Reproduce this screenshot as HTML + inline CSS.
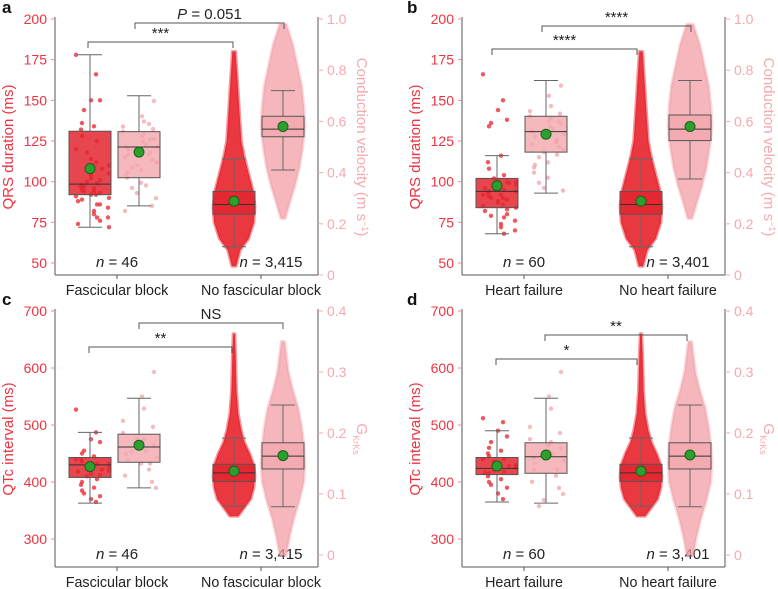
<!DOCTYPE html>
<html><head><meta charset="utf-8"><style>
html,body{margin:0;padding:0;background:#fff;}
svg{display:block;font-family:"Liberation Sans",sans-serif;}
</style></head><body>
<svg id="fig" width="778" height="589" viewBox="0 0 778 589" xmlns="http://www.w3.org/2000/svg"></svg>
<script>
// ---- data ----
// box stats: [lowWhisker, q1, median, q3, highWhisker, mean]
const aRedStats = [[72,92,98.5,131,178,108],[60,80,86,94,114,88]];
const aPinkStats = [[0.27,0.38,0.50,0.56,0.70,0.48],[0.41,0.54,0.57,0.62,0.72,0.58]];
const bRedStats = [[68,84,94,102,116,97.5],[60,80,86,94,114,88]];
const bPinkStats = [[0.32,0.48,0.56,0.62,0.76,0.55],[0.375,0.525,0.57,0.625,0.76,0.58]];
const cRedStats = [[363,408,430,443,487,427],[358,401,416,431,477,419]];
const cPinkStats = [[0.110,0.152,0.177,0.198,0.257,0.180],[0.079,0.141,0.162,0.184,0.246,0.163]];
const dRedStats = [[365,413,424,443,490,428],[358,401,416,431,477,419]];
const dPinkStats = [[0.085,0.134,0.161,0.184,0.257,0.164],[0.079,0.141,0.162,0.184,0.246,0.164]];
// small-group points
const aRedPts = [178,166,150,150,144,136,134,132,128,125,118,114,110,108,105,102,100,99,98,97,96,95,94,93,92,92,91,90,88,86,86,84,82,80,78,78,76,74,72,120,112,104,101,97,89,94];
const aPinkPts = [0.68,0.62,0.60,0.58,0.57,0.56,0.55,0.54,0.53,0.52,0.51,0.50,0.50,0.49,0.48,0.47,0.46,0.45,0.44,0.43,0.42,0.41,0.40,0.38,0.36,0.34,0.32,0.30,0.27,0.25,0.59,0.53,0.47,0.44,0.39,0.35];
const bRedPts = [166,150,144,138,136,134,116,112,108,104,102,101,100,99,98,97,96,95,94,93,92,91,90,89,88,86,85,84,82,80,78,76,74,72,70,68,100,96,94,92,90,87,83,79];
const bPinkPts = [0.74,0.70,0.66,0.64,0.63,0.62,0.61,0.60,0.59,0.58,0.57,0.56,0.55,0.54,0.53,0.52,0.51,0.50,0.49,0.48,0.46,0.44,0.42,0.40,0.38,0.36,0.34,0.33,0.60,0.56,0.52,0.47,0.43];
const cRedPts = [527,487,475,470,455,450,445,440,436,432,430,428,425,422,420,415,410,405,400,395,390,385,380,375,370,365,440,432,418,412];
const cPinkPts = [0.30,0.26,0.24,0.22,0.21,0.20,0.19,0.185,0.18,0.175,0.17,0.165,0.16,0.155,0.15,0.14,0.13,0.12,0.11,0.19,0.17,0.15];
const dRedPts = [512,505,490,480,470,460,455,450,445,440,436,432,430,428,425,422,420,418,415,410,405,400,395,390,380,370,440,426,416];
const dPinkPts = [0.30,0.26,0.24,0.21,0.20,0.19,0.185,0.18,0.175,0.17,0.165,0.16,0.155,0.15,0.14,0.13,0.12,0.11,0.10,0.09,0.08,0.18,0.16,0.14];
// large-group cloud profiles: values and relative widths (0..1)
const abRedCloudV = [48,58,65,75,85,95,105,115,125,145,180];
const abRedCloudW = [0.1,0.3,0.7,0.95,1,0.9,0.7,0.5,0.35,0.25,0.08];
const abPinkCloudV = [0.22,0.28,0.35,0.42,0.5,0.58,0.66,0.74,0.82,0.9,0.98];
const abPinkCloudW = [0.1,0.3,0.55,0.75,0.9,1,0.95,0.85,0.65,0.45,0.15];
const cdRedCloudV = [340,355,370,390,410,430,450,470,490,520,560,620,660];
const cdRedCloudW = [0.2,0.5,0.8,0.95,1,0.95,0.75,0.5,0.35,0.2,0.12,0.08,0.04];
const cdPinkCloudV = [0.0,0.03,0.06,0.09,0.12,0.15,0.18,0.21,0.24,0.27,0.3,0.35];
const cdPinkCloudW = [0.15,0.3,0.5,0.75,0.95,1,0.95,0.85,0.7,0.45,0.25,0.08];
const aTicksL = [50,75,100,125,150,175,200];
const aTicksR = ["0","0.2","0.4","0.6","0.8","1.0"];
const cTicksL = [300,400,500,600,700];
const cTicksR = ["0","0.1","0.2","0.3","0.4"];

const NS="http://www.w3.org/2000/svg";
const svg=document.getElementById('fig');
function mk(tag,attrs,parent,name,inter){const e=document.createElementNS(NS,tag);for(const k in attrs)e.setAttribute(k,attrs[k]);


(parent||svg).appendChild(e);return e;}
const RED='#e8222c',PINK='#f29ea5',AX='#555',REDT='#ee3340',PINKT='#f5a9ae';
function jit(i,span){return ((i*i*7+i*13+5)%(2*span+1))-span;}

function panel(p){
  const g=mk('g',{},svg,'panel-'+p.letter,false);
  const L=p.x0,R=p.x0+263;
  const yL=v=>p.topPx+(p.lMax-v)*p.lk;
  const yR=v=>p.rZeroPx-v*p.rk;
  mk('line',{x1:L,y1:p.topPx-2,x2:L,y2:p.botPx,stroke:AX,'stroke-width':1},g,'left-axis',false);
  mk('line',{x1:R,y1:p.topPx-2,x2:R,y2:p.botPx,stroke:AX,'stroke-width':1},g,'right-axis',false);
  mk('line',{x1:L,y1:p.botPx,x2:R,y2:p.botPx,stroke:AX,'stroke-width':1},g,'x-axis',false);
  p.ticksL.forEach(v=>{const y=yL(v);
    mk('line',{x1:L-4,y1:y,x2:L,y2:y,stroke:'#f08a90'},g,'left-tick',false);
    const t=mk('text',{x:L-8,y:y+5,'text-anchor':'end','font-size':14,fill:REDT},g,'left-tick-label',false);t.textContent=v;});
  p.ticksR.forEach(s=>{const y=yR(parseFloat(s));
    mk('line',{x1:R,y1:y,x2:R+5,y2:y,stroke:PINKT},g,'right-tick',false);
    const t=mk('text',{x:R+9,y:y+5,'font-size':14,fill:PINKT},g,'right-tick-label',false);t.textContent=s;});
  const lt=mk('text',{x:0,y:0,'text-anchor':'middle','font-size':15,fill:REDT,transform:`translate(${L-42},${(p.topPx+p.botPx)/2}) rotate(-90)`},g,'left-axis-title',false);lt.textContent=p.lTitle;
  const rt=mk('text',{x:0,y:0,'text-anchor':'middle','font-size':15,fill:PINKT,transform:`translate(${R+39},${(p.topPx+p.botPx)/2}) rotate(90)`},g,'right-axis-title',false);
  if(p.rTitleSub){rt.innerHTML='G<tspan font-size="9" dy="4">KrKs</tspan>';}else{rt.innerHTML='Conduction velocity (m s<tspan font-size="9" dy="-5">−1</tspan><tspan dy="5">)</tspan>';}
  const le=mk('text',{x:p.letterX,y:p.topPx-6,'font-size':17,'font-weight':'bold',fill:'#111'},g,'panel-letter',false);le.textContent=p.letter;
  const cats=[L+62,L+206];
  cats.forEach((cx,i)=>{mk('line',{x1:cx,y1:p.botPx,x2:cx,y2:p.botPx+4,stroke:AX},g,'x-tick',false);
    const t=mk('text',{x:cx,y:p.botPx+20,'text-anchor':'middle','font-size':14.3,fill:'#222'},g,'category-label',false);t.textContent=p.cats[i];
    const n=mk('text',{x:i?cx+10:cx,y:p.botPx-8,'text-anchor':'middle','font-size':15,fill:'#222'},g,'n-label',false);n.innerHTML='<tspan font-style="italic">n</tspan> = '+p.ns[i];});
  function cloud(cx,vals,ws,ymap,maxw,col,op,name){
    let right=[],left=[];vals.forEach((v,i)=>{right.push((cx+ws[i]*maxw)+','+ymap(v));left.unshift((cx-ws[i]*maxw)+','+ymap(v));});
    mk('polygon',{points:right.concat(left).join(' '),fill:col,'fill-opacity':op,stroke:col,'stroke-opacity':op*0.5,'stroke-width':3,'stroke-linejoin':'round'},g,name,false);
  }
  cloud(cats[1]-27,p.redCloudV,p.redCloudW,yL,21,RED,0.9,'red-cloud');
  cloud(cats[1]+22,p.pinkCloudV,p.pinkCloudW,yR,22,PINK,0.75,'pink-cloud');
  p.redPts.forEach((v,i)=>{mk('circle',{cx:cats[0]-27+jit(i,19),cy:yL(v),r:2.2,fill:RED,'fill-opacity':0.75},g,'red-point',false);});
  p.pinkPts.forEach((v,i)=>{mk('circle',{cx:cats[0]+22+jit(i+3,18),cy:yR(v),r:2.2,fill:PINK,'fill-opacity':0.7},g,'pink-point',false);});
  function box(cx,s,ymap,col,op,name){
    const w=21;
    mk('line',{x1:cx,y1:ymap(s[4]),x2:cx,y2:ymap(s[3]),stroke:'#666'},g,name+'-whisker',false);
    mk('line',{x1:cx,y1:ymap(s[1]),x2:cx,y2:ymap(s[0]),stroke:'#666'},g,name+'-whisker',false);
    mk('line',{x1:cx-12,y1:ymap(s[4]),x2:cx+12,y2:ymap(s[4]),stroke:'#666'},g,name+'-cap',false);
    mk('line',{x1:cx-12,y1:ymap(s[0]),x2:cx+12,y2:ymap(s[0]),stroke:'#666'},g,name+'-cap',false);
    mk('rect',{x:cx-w,y:ymap(s[3]),width:2*w,height:ymap(s[1])-ymap(s[3]),fill:col,'fill-opacity':op,stroke:'#555'},g,name+'-box',true);
    mk('line',{x1:cx-w,y1:ymap(s[2]),x2:cx+w,y2:ymap(s[2]),stroke:'#333'},g,name+'-median',false);
    mk('circle',{cx:cx,cy:ymap(s[5]),r:5,fill:'#2ca02c',stroke:'#1a5e1a'},g,name+'-mean',false);
  }
  [0,1].forEach(i=>{box(cats[i]-27,p.redStats[i],yL,'#e3262f',0.85,'red');box(cats[i]+22,p.pinkStats[i],yR,'#f2a7ad',0.8,'pink');});
  p.brackets.forEach(b=>{const x1=cats[0]+b[0],x2=cats[1]+b[1],y=b[2];
    mk('path',{d:`M${x1},${y+6}V${y}H${x2}V${y+6}`,fill:'none',stroke:'#555'},g,'significance-bracket',false);
    const t=mk('text',{x:(x1+x2)/2,y:y-4,'text-anchor':'middle','font-size':15,fill:'#222'},g,'significance-label',false);
    t.innerHTML=b[3];});
}
panel({letter:'a',letterX:2,x0:55,topPx:19,botPx:275,lMax:200,lk:244/150,rZeroPx:275,rk:256,ticksL:aTicksL,ticksR:aTicksR,lTitle:'QRS duration (ms)',
  cats:['Fascicular block','No fascicular block'],ns:['46','3,415'],redStats:aRedStats,pinkStats:aPinkStats,redPts:aRedPts,pinkPts:aPinkPts,
  redCloudV:abRedCloudV,redCloudW:abRedCloudW,pinkCloudV:abPinkCloudV,pinkCloudW:abPinkCloudW,
  brackets:[[-29,-28,42,'***'],[18,23,23,'<tspan font-style="italic">P</tspan> = 0.051']]});
panel({letter:'b',letterX:407,x0:462,topPx:19,botPx:275,lMax:200,lk:244/150,rZeroPx:275,rk:256,ticksL:aTicksL,ticksR:aTicksR,lTitle:'QRS duration (ms)',
  cats:['Heart failure','No heart failure'],ns:['60','3,401'],redStats:bRedStats,pinkStats:bPinkStats,redPts:bRedPts,pinkPts:bPinkPts,
  redCloudV:abRedCloudV,redCloudW:abRedCloudW,pinkCloudV:abPinkCloudV,pinkCloudW:abPinkCloudW,
  brackets:[[-32,-31,49,'****'],[18,23,26,'****']]});
panel({letter:'c',letterX:2,x0:55,topPx:311,botPx:567,lMax:700,lk:0.57,rZeroPx:555,rk:610,ticksL:cTicksL,ticksR:cTicksR,lTitle:'QTc interval (ms)',rTitleSub:true,
  cats:['Fascicular block','No fascicular block'],ns:['46','3,415'],redStats:cRedStats,pinkStats:cPinkStats,redPts:cRedPts,pinkPts:cPinkPts,
  redCloudV:cdRedCloudV,redCloudW:cdRedCloudW,pinkCloudV:cdPinkCloudV,pinkCloudW:cdPinkCloudW,
  brackets:[[-28,-29,347,'**'],[22,22,323,'NS']]});
panel({letter:'d',letterX:407,x0:462,topPx:311,botPx:567,lMax:700,lk:0.57,rZeroPx:555,rk:610,ticksL:cTicksL,ticksR:cTicksR,lTitle:'QTc interval (ms)',rTitleSub:true,
  cats:['Heart failure','No heart failure'],ns:['60','3,401'],redStats:dRedStats,pinkStats:dPinkStats,redPts:dRedPts,pinkPts:dPinkPts,
  redCloudV:cdRedCloudV,redCloudW:cdRedCloudW,pinkCloudV:cdPinkCloudV,pinkCloudW:cdPinkCloudW,
  brackets:[[-28,-31,359,'*'],[21,19,335,'**']]});
</script>
</body></html>
